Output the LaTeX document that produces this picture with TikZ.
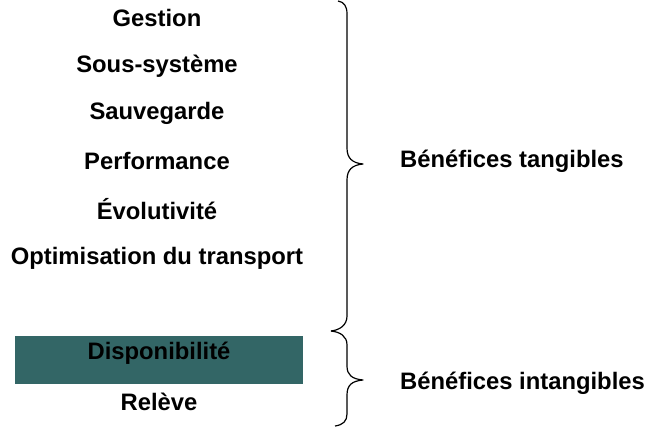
\documentclass[tikz,border=0pt]{standalone}
\usepackage{fontspec}
\setmainfont{Liberation Sans}
\definecolor{boxteal}{HTML}{336666}
\begin{document}
\begin{tikzpicture}[x=1pt,y=-1pt,
  item/.style={font=\fontsize{23.8}{26}\selectfont\bfseries, inner sep=0pt, anchor=center},
  brace/.style={draw=black, line width=1.2pt, line join=round}]
\useasboundingbox (0,0) rectangle (647,427);
\node[item] (gestion) at (157,18) {Gestion};
\node[item] (sous) at (157,66) {Sous-système};
\node[item] (sauv) at (157,113) {Sauvegarde};
\node[item] (perf) at (157,161) {Performance};
\node[item] (evol) at (157,209) {Évolutivité};
\node[item] (optim) at (157,258) {Optimisation du transport};
\fill[boxteal] (15,336) rectangle (303,384);
\node[item] (dispo) at (159,353) {Disponibilité};
\node[item] (releve) at (159,402) {Relève};
\node[item, anchor=west] (tang) at (400,161) {Bénéfices tangibles};
\node[item, anchor=west] (intang) at (400,383) {Bénéfices intangibles};
\draw[brace] (338,1) .. controls (344,2) and (347,6) .. (347,14) -- (347,148)
  .. controls (347,158) and (352,163) .. (363,164)
  .. controls (352,165) and (347,170) .. (347,180) -- (347,316)
  .. controls (347,325) and (340,330) .. (331,331);
\draw[brace] (331,331) .. controls (340,332) and (347,336) .. (347,345) -- (347,366)
  .. controls (347,375) and (352,379) .. (363,380)
  .. controls (352,381) and (347,385) .. (347,395) -- (347,414)
  .. controls (347,421) and (343,425) .. (335,426);
\end{tikzpicture}
\end{document}
